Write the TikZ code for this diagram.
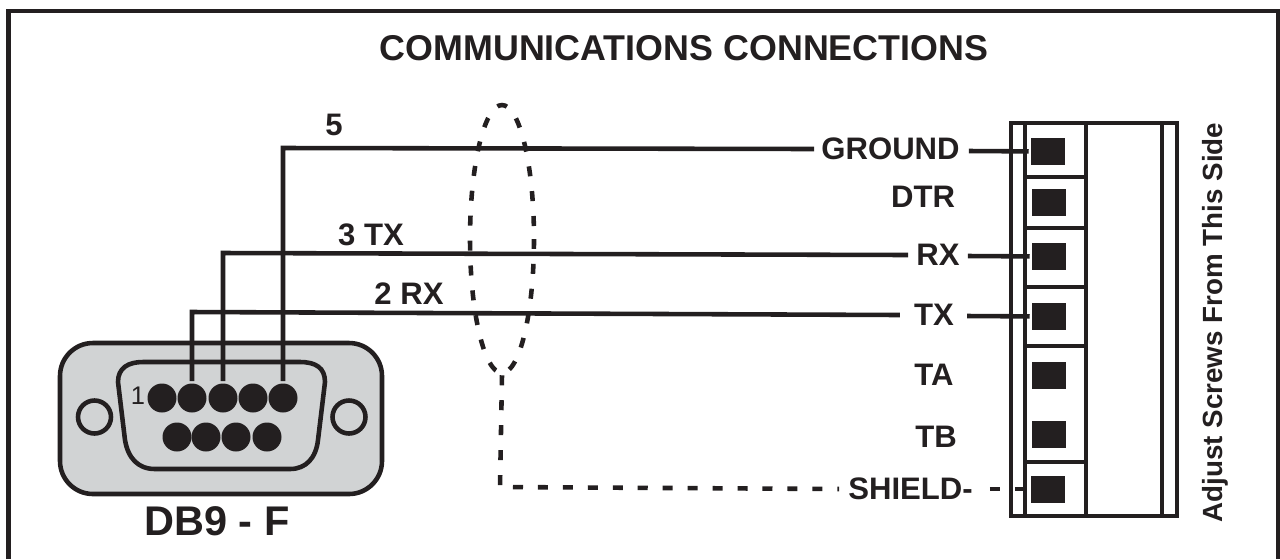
\documentclass[tikz,border=0pt]{standalone}
\usepackage{fontspec}
\setmainfont{Liberation Sans}
\usetikzlibrary{shapes.geometric}
\definecolor{inkblack}{HTML}{231F20}
\definecolor{shellgrey}{HTML}{D1D3D4}
\begin{document}
\begin{tikzpicture}[x=0.02cm, y=-0.02cm, line width=2.6pt, draw=inkblack, text=inkblack,
  wire/.style={draw=inkblack, line width=2.6pt},
  shieldline/.style={draw=inkblack, line width=2.6pt, dash pattern=on 5.7pt off 8.5pt},
  dbpin/.style={circle, fill=inkblack, minimum size=0.58cm, inner sep=0pt},
  dbhole/.style={circle, draw=inkblack, minimum size=0.66cm, inner sep=0pt},
  screw/.style={rectangle, fill=inkblack, minimum width=0.68cm, minimum height=0.54cm, inner sep=0pt},
  wirelabel/.style={font=\fontsize{17.7}{20}\selectfont\bfseries, inner sep=0pt}]
\useasboundingbox (0,0) rectangle (1280,559);
% outer frame
\draw (8.5,559) -- (8.5,11) -- (1278,11) -- (1278,559);
\node[font=\fontsize{20.4}{22}\selectfont\bfseries, inner sep=0pt] (title) at (684,48) {COMMUNICATIONS CONNECTIONS};
% connector
\draw[fill=shellgrey, rounded corners=0.66cm] (60,343) rectangle (382,494);
\draw (118,382) .. controls (118,368) and (128,362) .. (143,362) -- (300,362)
  .. controls (316,362) and (325,368) .. (325,382) -- (318,440)
  .. controls (316,458) and (306,469) .. (290,469) -- (155,469)
  .. controls (138,469) and (128,458) .. (125,440) -- cycle;
\node[dbhole] (holeleft) at (94.5,417) {};
\node[dbhole] (holeright) at (349,417) {};
\node[font=\fontsize{14.5}{16}\selectfont, inner sep=0pt] (pinone) at (138,396) {1};
\foreach \name/\xpos in {a/162, b/192, c/223, d/253, e/283}
  \node[dbpin] (pin\name) at (\xpos,398) {};
\foreach \name/\xpos in {f/177, g/206, h/236, i/267}
  \node[dbpin] (pin\name) at (\xpos,437) {};
\node[font=\fontsize{23.6}{26}\selectfont\bfseries, inner sep=0pt] (dbname) at (217,521) {DB9 - F};
% terminal block
\draw (1011,123) rectangle (1177,516);
\draw (1025,123) -- (1025,516);
\draw (1086,123) -- (1086,516);
\draw (1162,123) -- (1162,516);
\foreach \ypos in {177, 228, 287, 346, 462}
  \draw (1025,\ypos) -- (1086,\ypos);
\foreach \name/\xpos/\ypos in {ground/1048/151.5, dtr/1049/202.5, rx/1049/256.5, tx/1049/316.5, ta/1049/375.5, tb/1049/434.5, shield/1048/489}
  \node[screw] (screw\name) at (\xpos,\ypos) {};
% labels
\node[wirelabel] (lblground) at (890.5,149) {GROUND};
\node[wirelabel] (lbldtr) at (923,197) {DTR};
\node[wirelabel] (lblrx) at (938,255) {RX};
\node[wirelabel] (lbltx) at (934,315) {TX};
\node[wirelabel] (lblta) at (934,375) {TA};
\node[wirelabel] (lbltb) at (936,437) {TB};
\node[wirelabel] (lblshield) at (910.5,489) {SHIELD-};
\node[wirelabel] (lblfive) at (334,125) {5};
\node[wirelabel] (lblthree) at (371,235) {3 TX};
\node[wirelabel] (lbltwo) at (409,294) {2 RX};
\node[wirelabel, rotate=90, font=\fontsize{15.8}{18}\selectfont\bfseries] (adjust) at (1215,322.5) {Adjust Screws From This Side};
% wires
\coordinate (turnfive) at (283,148);
\coordinate (turnthree) at (223,253);
\coordinate (turntwo) at (192,312);
\draw[wire] (pine) -- (turnfive) -- ([xshift=-0.1cm]lblground.west);
\draw[wire] (pinc) -- (turnthree) -- ([xshift=-0.12cm]lblrx.west);
\draw[wire] (pinb) -- (turntwo) -- ([xshift=-0.24cm]lbltx.west);
\draw[wire] ([xshift=0.14cm, yshift=-0.04cm]lblground.east) -- (screwground);
\draw[wire] ([xshift=0.12cm, yshift=-0.02cm]lblrx.east) -- (screwrx);
\draw[wire] ([xshift=0.22cm, yshift=-0.02cm]lbltx.east) -- (screwtx);
% shield
\node[ellipse, draw, shieldline, dash phase=6.8pt, minimum width=1.28cm, minimum height=5.36cm, inner sep=0pt] (bundle) at (502,239) {};
\draw[shieldline] (bundle.south) -- (500,487) -- ([xshift=-0.14cm]lblshield.west);
\draw[shieldline] ([xshift=0.3cm]lblshield.east) -- (screwshield);
\end{tikzpicture}
\end{document}
